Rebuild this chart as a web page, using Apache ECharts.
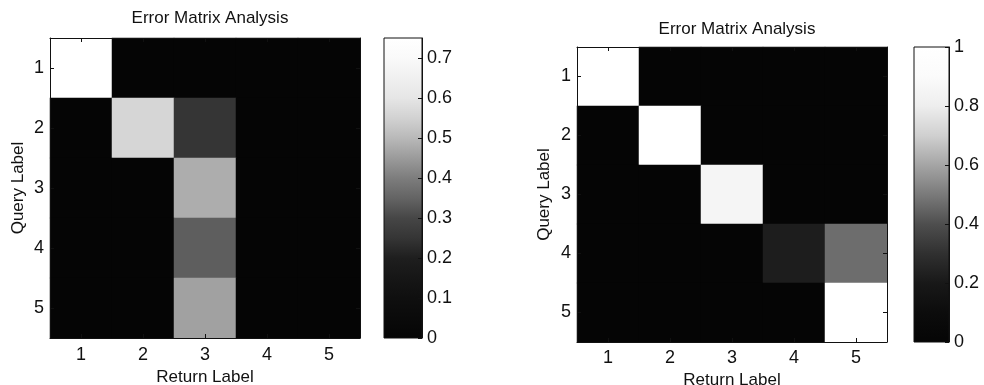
<!DOCTYPE html>
<html>
<head>
<meta charset="utf-8">
<script src="https://cdn.jsdelivr.net/npm/echarts@6/dist/echarts.min.js"></script>
<style>
  html, body { margin: 0; padding: 0; background: #fff; }
  #chart { width: 984px; height: 385px; }
</style>
</head>
<body>
<div id="chart"></div>
<script>
// Category labels for both matrices
const returnLabels = ['1', '2', '3', '4', '5'];
const queryLabels = ['1', '2', '3', '4', '5'];

// Error matrices: rows = query label, columns = return label
const errorsLeft = [
  [0.75, 0, 0, 0, 0],
  [0, 0.56, 0.25, 0, 0],
  [0, 0, 0.48, 0, 0],
  [0, 0, 0.34, 0, 0],
  [0, 0, 0.46, 0, 0]
];
const errorsRight = [
  [1, 0, 0, 0, 0],
  [0, 1, 0, 0, 0],
  [0, 0, 0.85, 0, 0],
  [0, 0, 0, 0.22, 0.47],
  [0, 0, 0, 0, 1]
];

// Colour-bar ranges and tick steps
const scaleLeft = { max: 0.75, step: 0.1 };
const scaleRight = { max: 1, step: 0.2 };

const FONT = 'Liberation Sans';
const INK = '#111';

// Gray ramps (dark end compressed, light end saturating)
const rampLeft = ['#050505', '#0a0a0a', '#0f0f0f', '#161616', '#1e1e1e', '#353535',
  '#464646', '#646464', '#7d7d7d', '#9b9b9b', '#b9b9b9', '#d2d2d2', '#e6e6e6',
  '#f0f0f0', '#fafafa', '#ffffff'];
const rampRight = ['#050505', '#0c0c0c', '#181818', '#303030', '#4e4e4e', '#7a7a7a',
  '#a5a5a5', '#d0d0d0', '#eeeeee', '#fbfbfb', '#ffffff'];

function cells(matrix) {
  const out = [];
  matrix.forEach((row, r) => row.forEach((v, c) => out.push([c, r, v])));
  return out;
}

// Vertical gradient (bottom = 0, top = max) used as the colour-bar fill
function barGradient(ramp) {
  return {
    type: 'linear', x: 0, y: 1, x2: 0, y2: 0,
    colorStops: ramp.map((c, k) => ({ offset: k / (ramp.length - 1), color: c }))
  };
}

const panels = [
  { grid: { left: 50, top: 38, width: 310, height: 300 },
    bar: { left: 384, top: 38, width: 38, height: 300 },
    titleTop: 5, data: errorsLeft, scale: scaleLeft, ramp: rampLeft,
    xMargin: 8, xGap: 27, yMargin: 6, yGap: 23, showMax: false },
  { grid: { left: 577, top: 47, width: 310, height: 295 },
    bar: { left: 914, top: 47, width: 35, height: 295 },
    titleTop: 16, data: errorsRight, scale: scaleRight, ramp: rampRight,
    xMargin: 7, xGap: 22, yMargin: 6, yGap: 24, showMax: true }
];

const option = {
  animation: false,
  backgroundColor: '#fff',
  textStyle: { fontFamily: FONT, color: INK },
  title: [], grid: [], xAxis: [], yAxis: [], series: [], visualMap: []
};

const tickStyle = { show: true, inside: true, length: 4, alignWithLabel: true,
  lineStyle: { color: INK, width: 1 } };
const lineStyle = { show: true, onZero: false, lineStyle: { color: INK, width: 1 } };
const labelFont = { fontFamily: FONT, fontSize: 18, color: INK };
const nameFont = { fontFamily: FONT, fontSize: 17, color: INK };

panels.forEach((p) => {
  const g = option.grid.length;
  const ax = option.xAxis.length;
  const ay = option.yAxis.length;

  option.title.push({
    text: 'Error Matrix Analysis',
    left: p.grid.left + p.grid.width / 2, top: p.titleTop, textAlign: 'center',
    textStyle: { fontFamily: FONT, fontSize: 17, fontWeight: 'normal', color: INK }
  });

  // heatmap grid (dark backing so no light seams show between cells)
  option.grid.push(Object.assign({
    containLabel: false, outerBoundsMode: 'none',
    show: true, backgroundColor: p.ramp[0], borderWidth: 0
  }, p.grid));
  // colour-bar grid, filled with the gray ramp and framed
  option.grid.push(Object.assign({
    containLabel: false, outerBoundsMode: 'none',
    show: true, backgroundColor: barGradient(p.ramp), borderColor: INK, borderWidth: 1
  }, p.bar));

  // heatmap axes: bottom + mirrored top, left + mirrored right
  option.xAxis.push({
    type: 'category', gridIndex: g, data: returnLabels, position: 'bottom', z: 10,
    axisLine: lineStyle, axisTick: tickStyle, splitLine: { show: false },
    axisLabel: Object.assign({ margin: p.xMargin }, labelFont),
    name: 'Return Label', nameLocation: 'middle', nameGap: p.xGap, nameTextStyle: nameFont
  });
  option.xAxis.push({
    type: 'category', gridIndex: g, data: returnLabels, position: 'top', z: 10,
    axisLine: lineStyle, axisTick: tickStyle, axisLabel: { show: false },
    splitLine: { show: false }
  });
  option.yAxis.push({
    type: 'category', gridIndex: g, data: queryLabels, inverse: true, position: 'left', z: 10,
    axisLine: lineStyle, axisTick: tickStyle, splitLine: { show: false },
    axisLabel: Object.assign({ margin: p.yMargin }, labelFont),
    name: 'Query Label', nameLocation: 'middle', nameGap: p.yGap, nameTextStyle: nameFont
  });
  option.yAxis.push({
    type: 'category', gridIndex: g, data: queryLabels, inverse: true, position: 'right', z: 10,
    axisLine: lineStyle, axisTick: tickStyle, axisLabel: { show: false },
    splitLine: { show: false }
  });

  // colour-bar scale, ticks pointing inward from the right edge
  option.xAxis.push({
    type: 'value', gridIndex: g + 1, min: 0, max: 1, show: false
  });
  option.yAxis.push({
    type: 'value', gridIndex: g + 1, min: 0, max: p.scale.max, interval: p.scale.step,
    position: 'right', z: 10,
    axisLine: lineStyle,
    axisTick: { show: true, inside: true, length: 4, lineStyle: { color: INK } },
    axisLabel: Object.assign({ margin: 5, showMaxLabel: p.showMax }, labelFont),
    splitLine: { show: false }
  });

  const s = option.series.length;
  option.series.push({
    type: 'heatmap', xAxisIndex: ax, yAxisIndex: ay, data: cells(p.data),
    itemStyle: { borderWidth: 0 }, emphasis: { disabled: true }, silent: true
  });

  option.visualMap.push({
    type: 'continuous', seriesIndex: s, min: 0, max: p.scale.max, show: false,
    inRange: { color: p.ramp }
  });
});

const chart = echarts.init(document.getElementById('chart'), null, { renderer: 'canvas' });
chart.setOption(option);
</script>
</body>
</html>
